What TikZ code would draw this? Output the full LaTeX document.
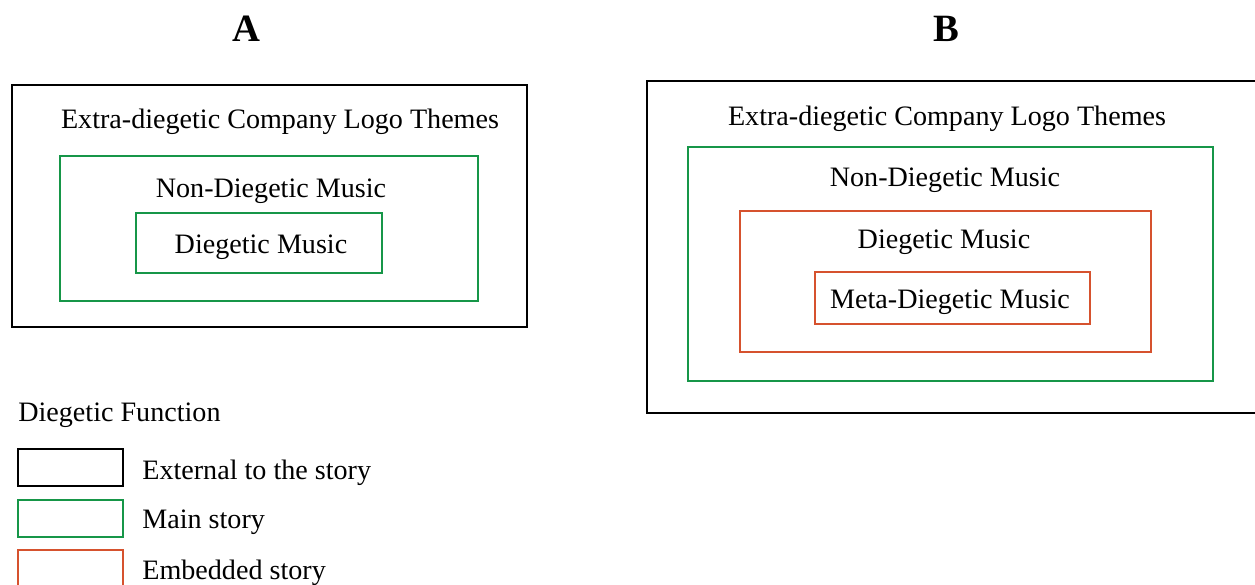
\documentclass[tikz,border=0pt]{standalone}
\usepackage{fontspec}
\setmainfont{Liberation Serif}
\usepackage{tikz}
\usetikzlibrary{positioning}
\definecolor{storygreen}{RGB}{22,150,72}
\definecolor{embedred}{RGB}{214,82,46}

\begin{document}
\begin{tikzpicture}[x=0.02cm, y=-0.02cm,
		outerbox/.style={draw=black, line width=1.1pt},
		mainbox/.style={draw=storygreen, line width=1.1pt},
		embedbox/.style={draw=embedred, line width=1.1pt},
		lbl/.style={font=\fontsize{16}{19}\selectfont, inner sep=0pt, yshift=-2.2pt},
		panel/.style={font=\fontsize{22}{26}\selectfont\bfseries, inner sep=0pt}]
		\useasboundingbox (0,0) rectangle (1255,585);
		
		% panel titles
		\node[panel] (titleA) at (246,29) {A};
		\node[panel] (titleB) at (946,29) {B};
		
		% Draw the A boxes
		\draw[outerbox] (12,85) rectangle (527,327);
		\draw[mainbox] (60,156) rectangle (478,301);
		\draw[mainbox] (136,213) rectangle (382,273);
		\node[lbl] (extraA) at (280,118) {Extra-diegetic Company Logo Themes};
		\node[lbl] (nondieA) at (271,187) {Non-Diegetic Music};
		\node[lbl] (dieA) at (261,243) {Diegetic Music};
		
		% Draw the B boxes
		\draw[outerbox] (647,81) rectangle (1262,413);
		\draw[mainbox] (688,147) rectangle (1213,381);
		\draw[embedbox] (740,211) rectangle (1151,352);
		\draw[embedbox] (815,272) rectangle (1090,324);
		\node[lbl] (extraB) at (947,115) {Extra-diegetic Company Logo Themes};
		\node[lbl] (nondieB) at (945,176) {Non-Diegetic Music};
		\node[lbl] (dieB) at (944,238) {Diegetic Music};
		\node[lbl] (metaB) at (950,298) {Meta-Diegetic Music};
		
		% legend
		\node[lbl, anchor=west] (legtitle) at (18,411) {Diegetic Function};
		\draw[outerbox] (18,449) rectangle (123,486);
		\draw[mainbox] (18,500) rectangle (123,537);
		\draw[embedbox] (18,550) rectangle (123,592);
		\node[lbl, anchor=west] (legext) at (142,469) {External to the story};
		\node[lbl, anchor=west] (legmain) at (142,518) {Main story};
		\node[lbl, anchor=west] (legemb) at (142,569) {Embedded story};
		
	\end{tikzpicture}
\end{document}
